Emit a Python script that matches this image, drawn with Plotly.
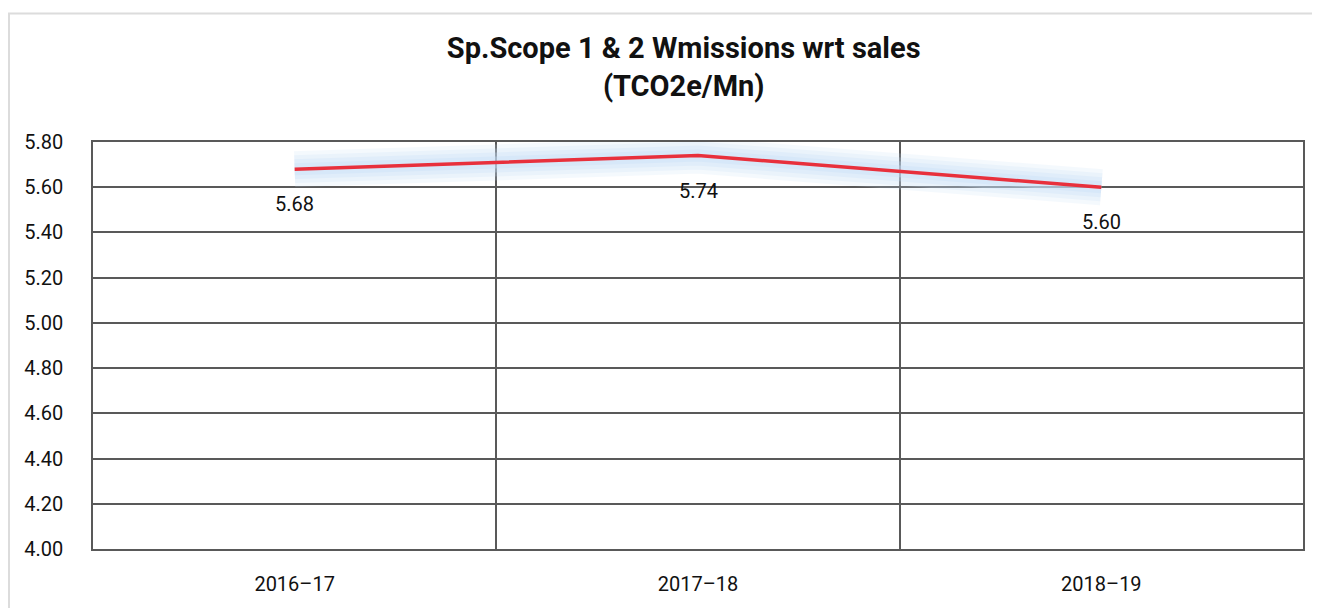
import plotly.graph_objects as go

years = ["2016\u201317", "2017\u201318", "2018\u201319"]
values = [5.68, 5.74, 5.60]
y_ticks = [4.00, 4.20, 4.40, 4.60, 4.80, 5.00, 5.20, 5.40, 5.60, 5.80]
title_lines = ["Sp.Scope 1 & 2 Wmissions wrt sales", "(TCO2e/Mn)"]

fig = go.Figure()

# soft glow beneath the line
for w, op in [(36, 0.18), (28, 0.22), (20, 0.28), (12, 0.35)]:
    fig.add_trace(go.Scatter(
        x=years, y=values, mode="lines",
        line=dict(color="rgb(200,224,248)", width=w),
        opacity=op, hoverinfo="skip", showlegend=False,
    ))

fig.add_trace(go.Scatter(
    x=years, y=values, mode="lines",
    line=dict(color="#e8303c", width=3.5),
    showlegend=False,
))

for xv, yv in zip(years, values):
    fig.add_annotation(
        x=xv, y=yv, text=f"{yv:.2f}", showarrow=False,
        yshift=-35, font=dict(family="Roboto", size=20, color="#111111"),
    )

fig.add_shape(
    type="rect", xref="paper", yref="paper",
    x0=-0.0694, x1=1.2, y0=-0.5, y1=1.316,
    line=dict(color="#dcdcdc", width=2), layer="below",
)

fig.update_layout(
    width=1312, height=600,
    margin=dict(l=85, r=17, t=134, b=55),
    paper_bgcolor="white", plot_bgcolor="white",
    title=dict(
        text="<br>".join(title_lines),
        x=0.515, xanchor="center", xref="container",
        y=0.916, yanchor="top", yref="container",
        font=dict(family="Roboto", size=29, color="#111111", weight="bold"),
    ),
    xaxis=dict(
        type="category", range=[-0.5, 2.5],
        tickson="boundaries", showgrid=True, gridcolor="#595959", gridwidth=1.5,
        showline=True, linecolor="#595959", linewidth=1.5, mirror=True,
        ticks="", ticklabelstandoff=16,
        tickfont=dict(family="Roboto", size=20, color="#111111"),
    ),
    yaxis=dict(
        range=[4.0, 5.8], tickvals=y_ticks,
        ticktext=[f"{v:.2f}" for v in y_ticks],
        showgrid=True, gridcolor="#595959", gridwidth=1.5,
        showline=True, linecolor="#595959", linewidth=1.5, mirror=True,
        zeroline=False, ticks="", ticklabelstandoff=24,
        tickfont=dict(family="Roboto", size=20, color="#111111"),
    ),
)

fig.write_html("out.html")
